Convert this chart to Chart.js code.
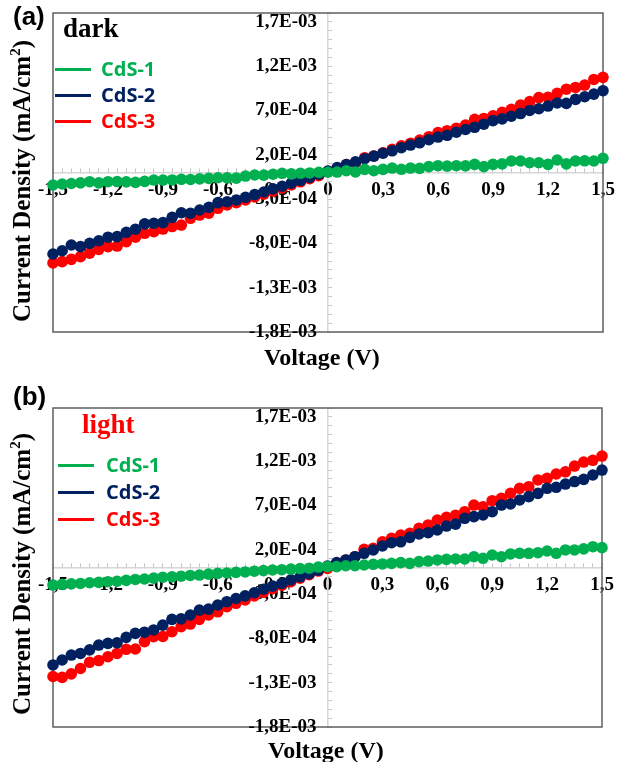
<!DOCTYPE html>
<html><head><meta charset="utf-8">
<script src="https://cdn.jsdelivr.net/npm/chart.js@4.4.0/dist/chart.umd.min.js"></script>
<style>
html,body{margin:0;padding:0;background:#fff;}
#wrap{position:relative;width:619px;height:762px;overflow:hidden;background:#fff;}
canvas{position:absolute;left:0;}
.t{position:absolute;white-space:nowrap;line-height:1;}
.serif{font-family:"Liberation Serif","Times New Roman",serif;font-weight:bold;}
.sans{font-family:"Liberation Sans",Arial,sans-serif;font-weight:bold;}
.leg{position:absolute;display:flex;align-items:center;height:20px;font-family:"Open Sans",sans-serif;font-weight:bold;font-size:20px;line-height:1;}
.leg span.ln{display:inline-block;width:36px;height:3px;}
.ytitle{position:absolute;width:360px;height:26px;text-align:center;font-size:25px;transform:rotate(-90deg);}
.ytitle sup{font-size:15px;line-height:0;vertical-align:10px;}
</style></head><body>
<div id="wrap">
<canvas id="ca" width="619" height="381" style="top:0px"></canvas>
<canvas id="cb" width="619" height="381" style="top:381px"></canvas>
<div class="t sans" style="left:13px;top:3px;font-size:26px;">(a)</div>
<div class="t serif" style="left:63px;top:15px;font-size:27px;color:#000;">dark</div>
<div class="t serif ytitle" style="left:-158px;top:168px;">Current Density (mA/cm<sup>2</sup>)</div>
<div class="t serif" style="left:264px;top:345px;font-size:24px;">Voltage (V)</div>
<div class="t sans" style="left:13px;top:383px;font-size:26px;">(b)</div>
<div class="t serif" style="left:82px;top:411px;font-size:27px;color:#FF0000;">light</div>
<div class="t serif ytitle" style="left:-158px;top:561px;">Current Density (mA/cm<sup>2</sup>)</div>
<div class="t serif" style="left:268px;top:738px;font-size:24px;">Voltage (V)</div>
</div>
<script>
// ---- data ----
const voltage = [-1.5,-1.45,-1.4,-1.35,-1.3,-1.25,-1.2,-1.15,-1.1,-1.05,-1.0,-0.95,-0.9,-0.85,-0.8,-0.75,-0.7,-0.65,-0.6,-0.55,-0.5,-0.45,-0.4,-0.35,-0.3,-0.25,-0.2,-0.15,-0.1,-0.05,0,0.05,0.1,0.15,0.2,0.25,0.3,0.35,0.4,0.45,0.5,0.55,0.6,0.65,0.7,0.75,0.8,0.85,0.9,0.95,1.0,1.05,1.1,1.15,1.2,1.25,1.3,1.35,1.4,1.45,1.5];

const seriesLabels = ['CdS-1','CdS-2','CdS-3'];
const seriesColors = ['#00B050','#002060','#FF0000'];

// dark (a)
const darkCdS1 = [-1.41e-4,-1.30e-4,-1.24e-4,-1.17e-4,-1.04e-4,-1.17e-4,-1.04e-4,-1.02e-4,-1.06e-4,-1.12e-4,-1.00e-4,-0.85e-4,-0.86e-4,-0.84e-4,-0.77e-4,-0.79e-4,-0.72e-4,-0.66e-4,-0.59e-4,-0.61e-4,-0.64e-4,-0.40e-4,-0.28e-4,-0.30e-4,-0.20e-4,-0.09e-4,-0.15e-4,-0.09e-4,-0.05e-4,0.02e-4,0.03e-4,0.05e-4,0.20e-4,0.06e-4,0.35e-4,0.20e-4,0.35e-4,0.50e-4,0.36e-4,0.50e-4,0.47e-4,0.66e-4,0.77e-4,0.72e-4,0.77e-4,0.75e-4,0.92e-4,0.66e-4,0.92e-4,0.97e-4,1.30e-4,1.30e-4,1.10e-4,1.10e-4,0.92e-4,1.41e-4,0.97e-4,1.30e-4,1.32e-4,1.30e-4,1.60e-4];
const darkCdS2 = [-9.20e-4,-8.83e-4,-8.18e-4,-8.37e-4,-8.00e-4,-7.70e-4,-7.30e-4,-7.24e-4,-6.75e-4,-6.40e-4,-5.80e-4,-5.73e-4,-5.66e-4,-5.06e-4,-4.54e-4,-4.60e-4,-4.23e-4,-3.93e-4,-3.40e-4,-3.30e-4,-3.10e-4,-2.80e-4,-2.50e-4,-2.20e-4,-1.85e-4,-1.55e-4,-1.20e-4,-0.90e-4,-0.55e-4,-0.20e-4,0.15e-4,0.55e-4,0.90e-4,1.20e-4,1.55e-4,1.85e-4,2.17e-4,2.45e-4,2.80e-4,3.10e-4,3.35e-4,3.70e-4,4.00e-4,4.20e-4,4.55e-4,4.85e-4,5.10e-4,5.45e-4,5.85e-4,6.05e-4,6.35e-4,6.65e-4,7.00e-4,7.20e-4,7.50e-4,7.85e-4,7.80e-4,8.25e-4,8.55e-4,8.85e-4,9.23e-4];
const darkCdS3 = [-10.20e-4,-10.06e-4,-9.80e-4,-9.50e-4,-9.10e-4,-8.67e-4,-8.37e-4,-8.30e-4,-7.80e-4,-7.30e-4,-6.86e-4,-6.68e-4,-6.38e-4,-6.10e-4,-5.93e-4,-5.17e-4,-4.80e-4,-4.60e-4,-4.04e-4,-3.67e-4,-3.40e-4,-3.10e-4,-2.75e-4,-2.45e-4,-2.10e-4,-1.75e-4,-1.40e-4,-1.05e-4,-0.70e-4,-0.35e-4,0.10e-4,0.40e-4,0.90e-4,1.10e-4,1.67e-4,1.86e-4,2.23e-4,2.62e-4,3.00e-4,3.30e-4,3.67e-4,4.04e-4,4.50e-4,4.72e-4,5.00e-4,5.36e-4,6.00e-4,6.10e-4,6.40e-4,6.80e-4,7.13e-4,7.60e-4,8.00e-4,8.45e-4,8.49e-4,8.94e-4,9.40e-4,9.60e-4,9.87e-4,10.50e-4,10.74e-4];

// light (b)
const lightCdS1 = [-1.98e-4,-1.90e-4,-1.85e-4,-1.80e-4,-1.72e-4,-1.68e-4,-1.60e-4,-1.55e-4,-1.45e-4,-1.35e-4,-1.30e-4,-1.20e-4,-1.10e-4,-1.05e-4,-0.98e-4,-0.90e-4,-0.85e-4,-0.75e-4,-0.66e-4,-0.62e-4,-0.55e-4,-0.50e-4,-0.42e-4,-0.35e-4,-0.28e-4,-0.25e-4,-0.18e-4,-0.12e-4,-0.08e-4,0.05e-4,0.10e-4,0.10e-4,0.20e-4,0.20e-4,0.28e-4,0.36e-4,0.40e-4,0.47e-4,0.55e-4,0.47e-4,0.66e-4,0.73e-4,0.85e-4,0.92e-4,0.96e-4,0.96e-4,1.22e-4,1.04e-4,1.41e-4,1.22e-4,1.53e-4,1.60e-4,1.60e-4,1.67e-4,1.86e-4,1.60e-4,1.98e-4,1.98e-4,2.10e-4,2.35e-4,2.24e-4];
const lightCdS2 = [-11.00e-4,-10.44e-4,-9.88e-4,-9.70e-4,-9.30e-4,-8.75e-4,-8.56e-4,-8.50e-4,-7.88e-4,-7.43e-4,-7.30e-4,-7.05e-4,-6.50e-4,-5.85e-4,-5.80e-4,-5.36e-4,-4.80e-4,-4.70e-4,-4.23e-4,-3.86e-4,-3.50e-4,-3.20e-4,-2.85e-4,-2.45e-4,-2.10e-4,-1.80e-4,-1.40e-4,-1.05e-4,-0.70e-4,-0.30e-4,0.17e-4,0.55e-4,0.85e-4,1.22e-4,1.60e-4,1.98e-4,2.43e-4,2.80e-4,2.90e-4,3.40e-4,3.78e-4,3.93e-4,4.23e-4,4.68e-4,4.90e-4,5.55e-4,5.74e-4,5.93e-4,6.30e-4,7.05e-4,7.17e-4,7.62e-4,8.00e-4,8.37e-4,8.94e-4,9.05e-4,9.42e-4,9.70e-4,9.95e-4,10.44e-4,11.00e-4];
const lightCdS3 = [-12.30e-4,-12.40e-4,-12.00e-4,-11.40e-4,-10.70e-4,-10.50e-4,-10.07e-4,-9.70e-4,-9.23e-4,-9.20e-4,-8.37e-4,-7.80e-4,-7.78e-4,-7.25e-4,-6.68e-4,-6.38e-4,-5.85e-4,-5.36e-4,-5.00e-4,-4.42e-4,-4.04e-4,-3.67e-4,-3.20e-4,-2.80e-4,-2.40e-4,-2.00e-4,-1.60e-4,-1.20e-4,-0.80e-4,-0.40e-4,-0.10e-4,0.47e-4,0.85e-4,1.22e-4,2.05e-4,2.17e-4,2.90e-4,3.30e-4,3.67e-4,3.86e-4,4.42e-4,4.80e-4,5.36e-4,5.66e-4,5.90e-4,6.30e-4,7.05e-4,6.86e-4,7.54e-4,7.80e-4,8.37e-4,8.94e-4,9.12e-4,9.88e-4,10.06e-4,10.55e-4,10.80e-4,11.45e-4,11.90e-4,12.10e-4,12.58e-4];

// axes / tick labels
const xTickValues = [-1.5,-1.2,-0.9,-0.6,-0.3,0,0.3,0.6,0.9,1.2,1.5];
const xTickLabels = ['-1,5','-1,2','-0,9','-0,6','-0,3','0','0,3','0,6','0,9','1,2','1,5'];
const yTickValues = [-0.0018,-0.0013,-0.0008,-0.0003,0.0002,0.0007,0.0012,0.0017];
const yTickLabels = ['-1,8E-03','-1,3E-03','-8,0E-04','-3,0E-04','2,0E-04','7,0E-04','1,2E-03','1,7E-03'];
const xMinorStep = 0.05, yMinorStep = 0.0001;
const xMin = -1.5, xMax = 1.5, yMin = -0.0018, yMax = 0.0018;

// ---- helpers ----
function minorTicks(min, max, step){
  const out = []; const n = Math.round((max-min)/step);
  for (let i=0;i<=n;i++) out.push({value: +(min + i*step).toFixed(8)});
  return out;
}
function labelFor(vals, labels, v, tol){
  for (let i=0;i<vals.length;i++) if (Math.abs(vals[i]-v) < tol) return labels[i];
  return '';
}
const tickFontCss = 'bold 19px "Liberation Serif", "Times New Roman", serif';
const tickFont = {family: '"Liberation Serif", "Times New Roman", serif', weight: 'bold', size: 19};

// frame around the plot area + y tick labels placed left of the x=0 axis
const framePlugin = {
  id: 'frame',
  beforeDatasetsDraw(chart){
    const {ctx, chartArea:{left,top,right,bottom}, scales} = chart;
    ctx.save(); ctx.strokeStyle = '#5f5f5f'; ctx.lineWidth = 1.5;
    ctx.strokeRect(left, top, right-left, bottom-top);
    const x0 = scales.x.getPixelForValue(0);
    ctx.fillStyle = '#000'; ctx.font = tickFontCss;
    ctx.textAlign = 'right'; ctx.textBaseline = 'middle';
    yTickValues.forEach((v, i) => {
      ctx.fillText(yTickLabels[i], x0 - 11, scales.y.getPixelForValue(v));
    });
    ctx.restore();
  }
};
function zeroFit(s){
  if (s.isHorizontal()) s.height = 0; else s.width = 0;
  s.paddingTop = 0; s.paddingBottom = 0; s.paddingLeft = 0; s.paddingRight = 0;
}

function makeChart(id, series, padding){
  const datasets = series.map((vals, i) => ({
    label: seriesLabels[i],
    data: voltage.map((v, k) => ({x: v, y: vals[k]})),
    backgroundColor: seriesColors[i],
    borderColor: seriesColors[i],
    pointRadius: 5.8, pointBorderWidth: 0, showLine: false, clip: false
  }));
  return new Chart(document.getElementById(id), {
    type: 'scatter',
    data: {datasets},
    plugins: [framePlugin],
    options: {
      responsive: false, animation: false, devicePixelRatio: 1,
      layout: {padding},
      plugins: {legend: {display: false}, tooltip: {enabled: false}},
      scales: {
        x: {
          type: 'linear', min: xMin, max: xMax, position: {y: 0},
          afterBuildTicks: s => { s.ticks = minorTicks(xMin, xMax, xMinorStep); },
          afterFit: zeroFit,
          grid: {drawOnChartArea: false, drawTicks: true, tickLength: -5, color: '#c4c4c4', tickColor: '#c4c4c4', lineWidth: 1},
          border: {display: true, color: '#d6d6d6', width: 1.5},
          ticks: {autoSkip: false, maxRotation: 0, padding: 11, color: '#000', font: tickFont,
                  callback: v => labelFor(xTickValues, xTickLabels, v, 1e-6)}
        },
        y: {
          type: 'linear', min: yMin, max: yMax, position: {x: 0},
          afterBuildTicks: s => { s.ticks = minorTicks(yMin, yMax, yMinorStep); },
          afterFit: zeroFit,
          grid: {drawOnChartArea: false, drawTicks: true, tickLength: -5, color: '#c4c4c4', tickColor: '#c4c4c4', lineWidth: 1},
          border: {display: true, color: '#d6d6d6', width: 1.5},
          ticks: {display: false, autoSkip: false}
        }
      }
    }
  });
}

makeChart('ca', [darkCdS1, darkCdS2, darkCdS3], {left: 53, right: 16, top: 13, bottom: 49});
makeChart('cb', [lightCdS1, lightCdS2, lightCdS3], {left: 53, right: 17, top: 27, bottom: 35});

// legends
function makeLegend(lineLeft, textLeft, rowCenters){
  const wrap = document.getElementById('wrap');
  seriesLabels.forEach((lab, i) => {
    const row = document.createElement('div');
    row.className = 'leg';
    row.style.left = lineLeft + 'px';
    row.style.top = (rowCenters[i] - 10) + 'px';
    row.style.color = seriesColors[i];
    const ln = document.createElement('span');
    ln.className = 'ln'; ln.style.background = seriesColors[i];
    ln.style.marginRight = (textLeft - lineLeft - 36) + 'px';
    const tx = document.createElement('span');
    tx.textContent = lab;
    row.appendChild(ln); row.appendChild(tx);
    wrap.appendChild(row);
  });
}
makeLegend(55, 101, [69, 95, 121]);
makeLegend(58, 106, [465, 492, 519]);
</script>
</body></html>
